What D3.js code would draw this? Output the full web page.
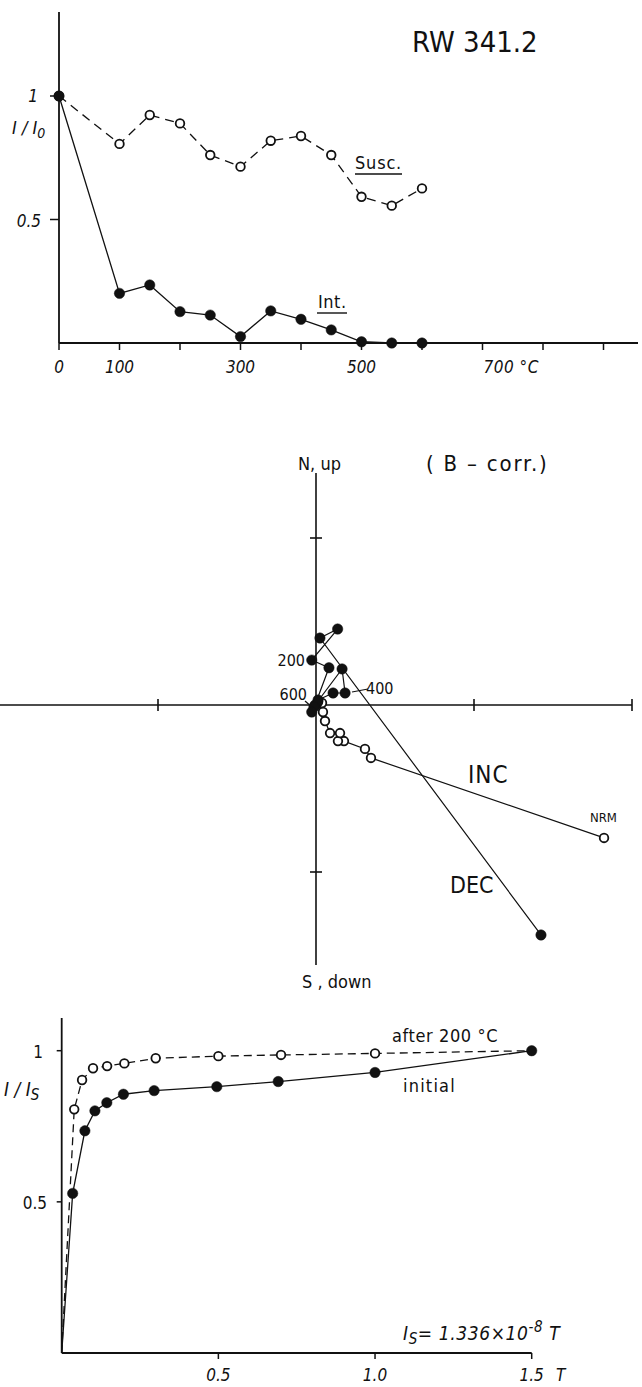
<!DOCTYPE html>
<html>
<head>
<meta charset="utf-8">
<script src="https://cdn.jsdelivr.net/npm/d3@7/dist/d3.min.js"></script>
<style>
html,body{margin:0;padding:0;background:#fff;}
svg{display:block;}
text{font-family:"DejaVu Sans Condensed","DejaVu Sans",sans-serif;fill:#111;}
</style>
</head>
<body>
<script>
// ---------- Panel 1: thermal demagnetisation ----------
const tempSteps   = [0,100,150,200,250,300,350,400,450,500,550,600];
const suscValues  = [1.0,0.806,0.923,0.889,0.761,0.714,0.819,0.838,0.761,0.592,0.556,0.626];
const intValues   = [1.0,0.201,0.235,0.127,0.113,0.026,0.130,0.096,0.053,0.005,0.0,0.0];
const tempTicks   = [0,100,200,300,400,500,600,700,800,900];
const tempLabels  = [0,100,300,500,700];
const relTicks    = [0.5,1];

// ---------- Panel 2: orthogonal projection (B-corr.) ----------
const zSteps  = ["NRM","100","150","200","250","300","350","400","450","500","550","600"];
const decEast = [1.424,0.025,0.137,-0.027,0.082,-0.006,0.165,0.184,0.108,0.013,-0.013,-0.027];
const decNorth= [-1.377,0.401,0.455,0.269,0.223,0.0,0.216,0.072,0.072,0.03,-0.012,-0.042];
const incEast = [1.823,0.348,0.310,0.177,0.139,0.152,0.089,0.057,0.044,0.038,0.013,0.0];
const incUp   = [-0.796,-0.317,-0.263,-0.216,-0.216,-0.168,-0.168,-0.096,-0.042,0.012,0.018,0.0];
const zTicksX = [-1,1,2];
const zTicksY = [-1,1];

// ---------- Panel 3: IRM acquisition ----------
const fieldsAfter   = [0,0.04,0.065,0.1,0.145,0.2,0.3,0.5,0.7,1.0,1.5];
const after200      = [0,0.806,0.903,0.942,0.949,0.958,0.975,0.982,0.986,0.991,1.0];
const fieldsInitial = [0,0.035,0.074,0.106,0.144,0.197,0.295,0.495,0.691,1.0,1.5];
const initialIRM    = [0,0.528,0.735,0.801,0.828,0.856,0.868,0.881,0.898,0.928,1.0];
const fieldTicks    = [0.5,1.0,1.5];
const irmTicks      = [0.5,1];

const W = 642, H = 1387;
const svg = d3.select("body").append("svg").attr("width",W).attr("height",H);
svg.append("rect").attr("width",W).attr("height",H).attr("fill","#fff");
const ink = "#111";

function line(g,x1,y1,x2,y2,w){
  g.append("line").attr("x1",x1).attr("y1",y1).attr("x2",x2).attr("y2",y2)
   .attr("stroke",ink).attr("stroke-width",w||1.6);
}
function txt(g,x,y,s,size,opts){
  opts=opts||{};
  return g.append("text").attr("x",x).attr("y",y).attr("font-size",size)
    .attr("font-style",opts.italic?"italic":null)
    .attr("text-anchor",opts.anchor||null)
    .attr("letter-spacing",opts.ls||null).text(s);
}
function drawSeries(g, xs, ys, x, y, opts){
  const pts = xs.map((v,i)=>[x(v),y(ys[i])]);
  g.append("path").attr("d",d3.line()(pts)).attr("fill","none")
    .attr("stroke",ink).attr("stroke-width",opts.lw||1.3)
    .attr("stroke-dasharray",opts.dash||null);
  const mk = opts.markIdx ? opts.markIdx.map(i=>pts[i]) : pts;
  g.selectAll(null).data(mk).enter().append("circle")
    .attr("cx",d=>d[0]).attr("cy",d=>d[1]).attr("r",opts.open?4.3:5.2)
    .attr("fill",opts.open?"#fff":ink).attr("stroke",ink)
    .attr("stroke-width",opts.open?1.8:0.5);
}

// ===== Panel 1 =====
{
  const g = svg.append("g");
  const x = d3.scaleLinear().domain([0,1000]).range([59,664]);
  const y = d3.scaleLinear().domain([0,1]).range([343,96]);
  line(g,x(0),y(0),638,y(0),1.8);
  line(g,x(0),y(0),x(0),12,1.8);
  tempTicks.forEach(t=>line(g,x(t),y(0),x(t),y(0)+7,1.5));
  relTicks.forEach(t=>line(g,x(0)-9,y(t),x(0),y(t),1.5));
  tempLabels.forEach(t=>{
    if(t===700) txt(g,x(t)+1,373,"700 °C",17,{italic:true,ls:0.5});
    else txt(g,x(t),373,t,17,{italic:true,anchor:"middle"});
  });
  txt(g,38,y(1)+6,"1",17,{italic:true,anchor:"end"});
  txt(g,41,y(0.5)+7,"0.5",17,{italic:true,anchor:"end"});
  const il = txt(g,12,134,"",18,{italic:true});
  il.append("tspan").text("I / I");
  il.append("tspan").attr("font-size",14).attr("dy",4).text("0");

  drawSeries(g,tempSteps,suscValues,x,y,{open:true,dash:"9,6"});
  drawSeries(g,tempSteps,intValues,x,y,{open:false});

  txt(g,355,169,"Susc.",18,{ls:0.8});
  line(g,355,174,402,174,1.4);
  txt(g,318,308,"Int.",18,{ls:0.5});
  line(g,317,313,347,313,1.4);
  txt(g,412,52,"RW 341.2",29);
}

// ===== Panel 2 =====
{
  const g = svg.append("g");
  const x = d3.scaleLinear().domain([-2,2]).range([0,632]);
  const y = d3.scaleLinear().domain([-1,1]).range([872,538]);
  line(g,0,y(0),x(2),y(0),1.6);
  line(g,x(0),473,x(0),965,1.6);
  zTicksX.forEach(t=>line(g,x(t),y(0)-6,x(t),y(0)+6,1.6));
  zTicksY.forEach(t=>line(g,x(0)-6,y(t),x(0)+6,y(t),1.6));

  drawSeries(g,incEast,incUp,x,y,{open:true,lw:1.2});
  drawSeries(g,decEast,decNorth,x,y,{open:false,lw:1.2});

  txt(g,x(0)-18,470,"N, up",18);
  txt(g,302,988,"S , down",18);
  txt(g,426,471,"( B – corr.)",22,{ls:1.8});
  txt(g,305,666,"200",16,{anchor:"end"});
  txt(g,307,700,"600",16,{anchor:"end"});
  line(g,305,701,313,708,1.2);
  txt(g,366,694,"400",16);
  line(g,352,692,368,689,1.2);
  txt(g,468,783,"INC",24,{ls:1});
  txt(g,450,893,"DEC",23);
  txt(g,590,822,"NRM",13);
}

// ===== Panel 3 =====
{
  const g = svg.append("g");
  const x = d3.scaleLinear().domain([0,1.5]).range([61.7,531.7]);
  const y = d3.scaleLinear().domain([0,1]).range([1353,1050.7]);
  line(g,x(0),y(0),x(1.5),y(0),1.8);
  line(g,x(0),y(0),x(0),1018,1.8);
  fieldTicks.forEach(t=>line(g,x(t),y(0),x(t),y(0)+6,1.5));
  irmTicks.forEach(t=>line(g,x(0)-5,y(t),x(0),y(t),1.5));
  fieldTicks.forEach(t=>txt(g,x(t),1381,t.toFixed(1),17,{italic:true,anchor:"middle"}));
  txt(g,556,1381,"T",17,{italic:true});
  txt(g,43,y(1)+7,"1",17,{anchor:"end"});
  txt(g,47,y(0.5)+7,"0.5",17,{anchor:"end"});
  const il = txt(g,4,1096,"",19,{italic:true});
  il.append("tspan").text("I / I");
  il.append("tspan").attr("font-size",15).attr("dy",4).text("S");

  drawSeries(g,fieldsAfter,after200,x,y,{open:true,dash:"8,5",markIdx:[1,2,3,4,5,6,7,8,9]});
  drawSeries(g,fieldsInitial,initialIRM,x,y,{open:false,markIdx:[1,2,3,4,5,6,7,8,9,10]});

  txt(g,392,1042,"after 200 °C",18,{ls:0.6});
  txt(g,403,1092,"initial",18,{ls:1.2});
  const is = txt(g,403,1340,"",19,{italic:true,ls:0.6});
  is.append("tspan").text("I");
  is.append("tspan").attr("font-size",15).attr("dy",4).text("S");
  is.append("tspan").attr("dy",-4).text("= 1.336×10");
  is.append("tspan").attr("font-size",15).attr("dy",-8).text("-8");
  is.append("tspan").attr("dy",8).text(" T");
}
</script>
</body>
</html>
